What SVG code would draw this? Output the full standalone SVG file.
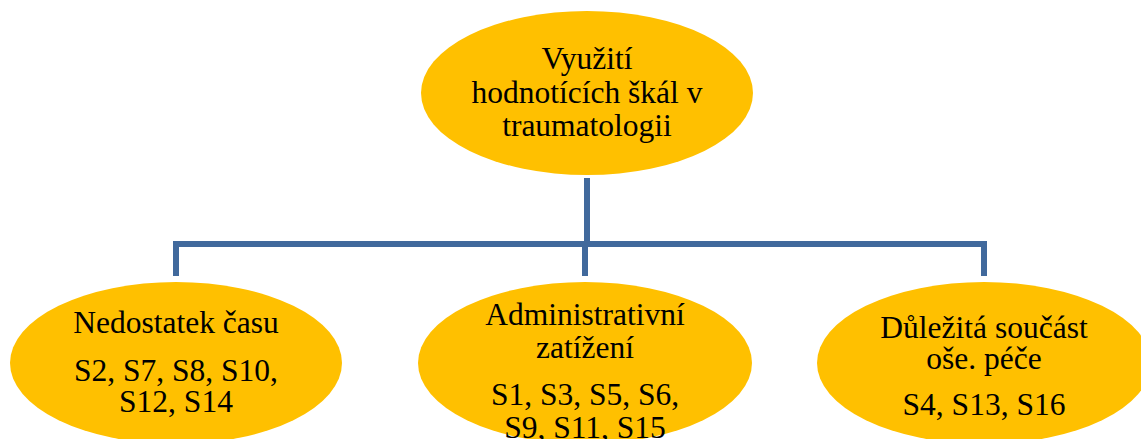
<svg xmlns="http://www.w3.org/2000/svg" width="1141" height="439" viewBox="0 0 1141 439">
<style>
.node{fill:#FFC000;}
.t{font-family:"Liberation Serif","Times New Roman",serif;font-size:31.5px;fill:#000;text-anchor:middle;}
.c{stroke:#41699C;stroke-width:6;fill:none;}
</style>
<rect width="1141" height="439" fill="#fff"/>
<g id="connectors">
<line class="c" x1="587" y1="178" x2="587" y2="244"/>
<polyline class="c" points="176,276 176,244 984,244 984,276"/>
<line class="c" x1="585" y1="244" x2="585" y2="276"/>
</g>
<g id="root">
<ellipse class="node" cx="587" cy="93" rx="166" ry="82"/>
<text class="t" x="587" y="69">Využití</text>
<text class="t" x="587" y="103">hodnotících škál v</text>
<text class="t" x="587" y="136">traumatologii</text>
</g>
<g id="n1">
<ellipse class="node" cx="176" cy="363" rx="166" ry="81"/>
<text class="t" x="176" y="333">Nedostatek času</text>
<text class="t" x="176" y="381">S2, S7, S8, S10,</text>
<text class="t" x="176" y="412">S12, S14</text>
</g>
<g id="n2">
<ellipse class="node" cx="585" cy="363" rx="167" ry="81"/>
<text class="t" x="585" y="325">Administrativní</text>
<text class="t" x="585" y="358">zatížení</text>
<text class="t" x="585" y="405">S1, S3, S5, S6,</text>
<text class="t" x="585" y="438">S9, S11, S15</text>
</g>
<g id="n3">
<ellipse class="node" cx="984" cy="363" rx="167" ry="81"/>
<text class="t" x="984" y="338">Důležitá součást</text>
<text class="t" x="984" y="369">oše. péče</text>
<text class="t" x="984" y="415">S4, S13, S16</text>
</g>
</svg>
